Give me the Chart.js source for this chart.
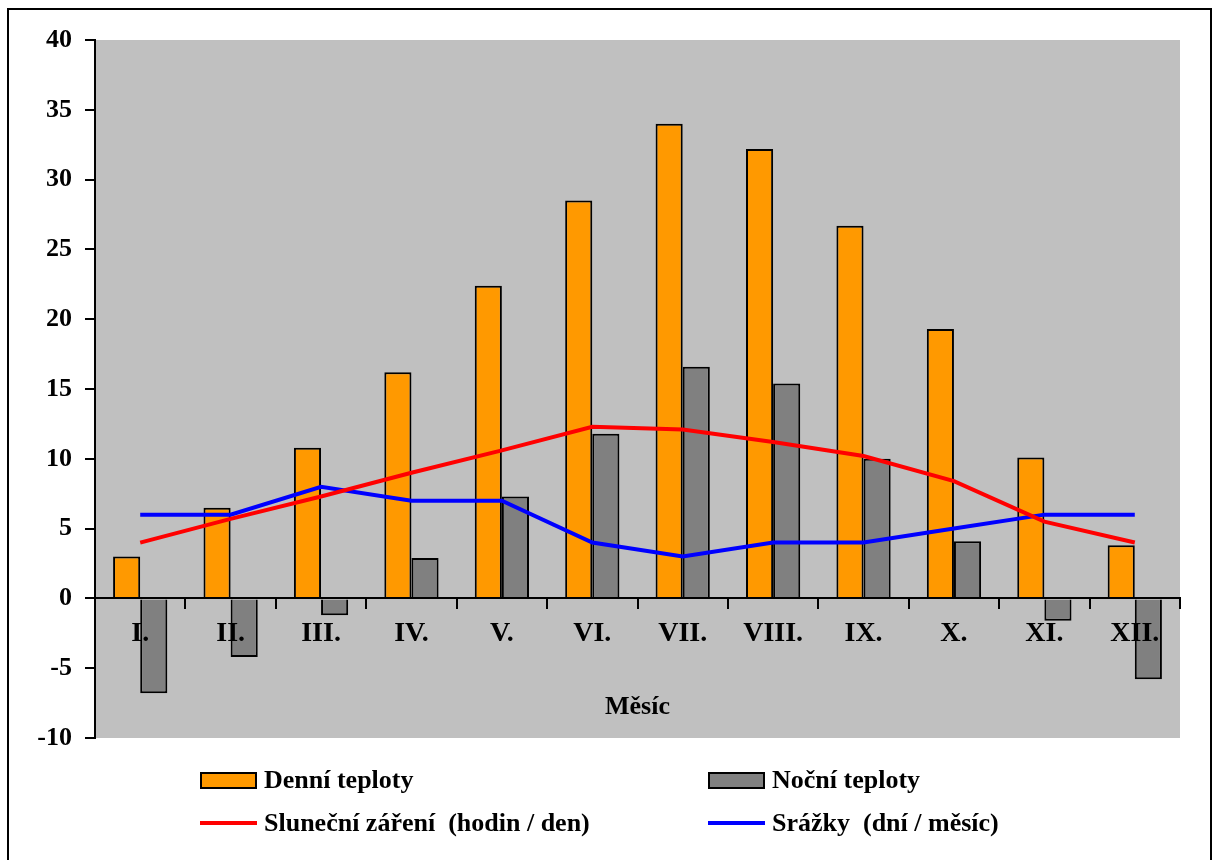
<!DOCTYPE html>
<html>
<head>
<meta charset="utf-8">
<script src="https://cdn.jsdelivr.net/npm/chart.js@4/dist/chart.umd.min.js"></script>
<style>
  body { margin: 0; background: #fff; }
  #wrap { position: relative; width: 1218px; height: 860px; }
  #legend { position: absolute; left: 0; top: 0; width: 1218px; height: 860px; pointer-events: none;
            font-family: 'Liberation Serif', 'Times New Roman', serif; font-weight: bold; font-size: 26px; line-height: 26px; color: #000; }
  .sw { position: absolute; width: 57px; height: 17px; box-sizing: border-box; }
  .txt { position: absolute; white-space: pre; }
</style>
</head>
<body>
<div id="wrap">
  <canvas id="klima" width="1218" height="860"></canvas>
  <div id="legend"></div>
</div>
<script>
var mesice = ["I.", "II.", "III.", "IV.", "V.", "VI.", "VII.", "VIII.", "IX.", "X.", "XI.", "XII."];
var denni = [3, 6.5, 10.8, 16.2, 22.4, 28.5, 34, 32.2, 26.7, 19.3, 10.1, 3.8];
var nocni = [-6.8, -4.2, -1.2, 2.9, 7.3, 11.8, 16.6, 15.4, 10, 4.1, -1.6, -5.8];
var slunce = [4, 5.7, 7.3, 9.0, 10.6, 12.3, 12.1, 11.2, 10.2, 8.4, 5.5, 4];
var srazky = [6, 6, 8, 7, 7, 4, 3, 4, 4, 5, 6, 6];
var yMin = -10, yMax = 40, yStep = 5;

var serif = "'Liberation Serif', 'Times New Roman', serif";

// sede pozadi grafu + ramecek kolem celeho obrazku
var pozadi = {
    id: 'pozadi',
    beforeDraw: function(chart) {
        var ctx = chart.ctx, a = chart.chartArea;
        ctx.save();
        ctx.fillStyle = '#C0C0C0';
        ctx.fillRect(a.left, a.top, a.right - a.left, a.bottom - a.top);
        ctx.restore();
    },
    afterDraw: function(chart) {
        var ctx = chart.ctx;
        ctx.save();
        ctx.strokeStyle = '#000';
        ctx.lineWidth = 2;
        ctx.strokeRect(8, 9, 1203, 900);
        ctx.restore();
    }
};

var chartdata = {
    labels: mesice,
    datasets: [
        {
            type: 'line',
            label: 'Sluneční záření  (hodin / den)',
            data: slunce,
            borderColor: '#FF0000',
            backgroundColor: '#FF0000',
            borderWidth: 4,
            pointRadius: 0,
            tension: 0,
            order: 0
        },
        {
            type: 'line',
            label: 'Srážky  (dní / měsíc)',
            data: srazky,
            borderColor: '#0000FF',
            backgroundColor: '#0000FF',
            borderWidth: 4,
            pointRadius: 0,
            tension: 0,
            order: 0
        },
        {
            type: 'bar',
            label: 'Denní teploty',
            data: denni,
            backgroundColor: '#FF9900',
            borderColor: '#000',
            borderWidth: 2,
            categoryPercentage: 0.6,
            barPercentage: 1,
            order: 1
        },
        {
            type: 'bar',
            label: 'Noční teploty',
            data: nocni,
            backgroundColor: '#808080',
            borderColor: '#000',
            borderWidth: 2,
            categoryPercentage: 0.6,
            barPercentage: 1,
            order: 1
        }
    ]
};

var graf = new Chart(document.getElementById('klima'), {
    type: 'bar',
    data: chartdata,
    plugins: [pozadi],
    options: {
        responsive: false,
        animation: false,
        layout: { padding: { left: 0, top: 40, right: 38, bottom: 122 } },
        plugins: {
            legend: { display: false },
            tooltip: { enabled: false }
        },
        scales: {
            x: {
                position: { y: 0 },
                offset: true,
                grid: { offset: true, drawOnChartArea: false, drawTicks: true, tickLength: 10, color: '#000', lineWidth: 2, z: 1 },
                border: { display: true, color: '#000', width: 2, z: 1 },
                ticks: { color: '#000', padding: 9, z: 2, font: { family: serif, size: 28, weight: 'bold' } },
                title: { display: true, text: 'Měsíc', color: '#000', padding: { top: 32, bottom: 0 },
                         font: { family: serif, size: 26, weight: 'bold' } }
            },
            y: {
                min: yMin,
                max: yMax,
                afterFit: function(scale) { scale.width = 95; },
                grid: { drawOnChartArea: false, drawTicks: true, tickLength: 10, color: '#000', lineWidth: 2 },
                border: { display: true, color: '#000', width: 2 },
                ticks: { stepSize: yStep, color: '#000', padding: 13, font: { family: serif, size: 26, weight: 'bold' } }
            }
        }
    }
});

// legenda ve dvou sloupcich pod grafem
var legendItems = [
    { ds: 2, x: 200, row: 0 },
    { ds: 3, x: 708, row: 0 },
    { ds: 0, x: 200, row: 1 },
    { ds: 1, x: 708, row: 1 }
];
var leg = document.getElementById('legend');
legendItems.forEach(function(it) {
    var ds = chartdata.datasets[it.ds];
    var rowTop = it.row === 0 ? 767 : 810;
    var sw = document.createElement('div');
    sw.className = 'sw';
    if (ds.type === 'bar') {
        sw.style.left = it.x + 'px';
        sw.style.top = '772px';
        sw.style.background = ds.backgroundColor;
        sw.style.border = '2px solid #000';
    } else {
        sw.style.left = it.x + 'px';
        sw.style.top = '821px';
        sw.style.height = '4px';
        sw.style.background = ds.borderColor;
    }
    leg.appendChild(sw);
    var t = document.createElement('span');
    t.className = 'txt';
    t.style.left = (it.x + 64) + 'px';
    t.style.top = rowTop + 'px';
    t.textContent = ds.label;
    leg.appendChild(t);
});
</script>
</body>
</html>
